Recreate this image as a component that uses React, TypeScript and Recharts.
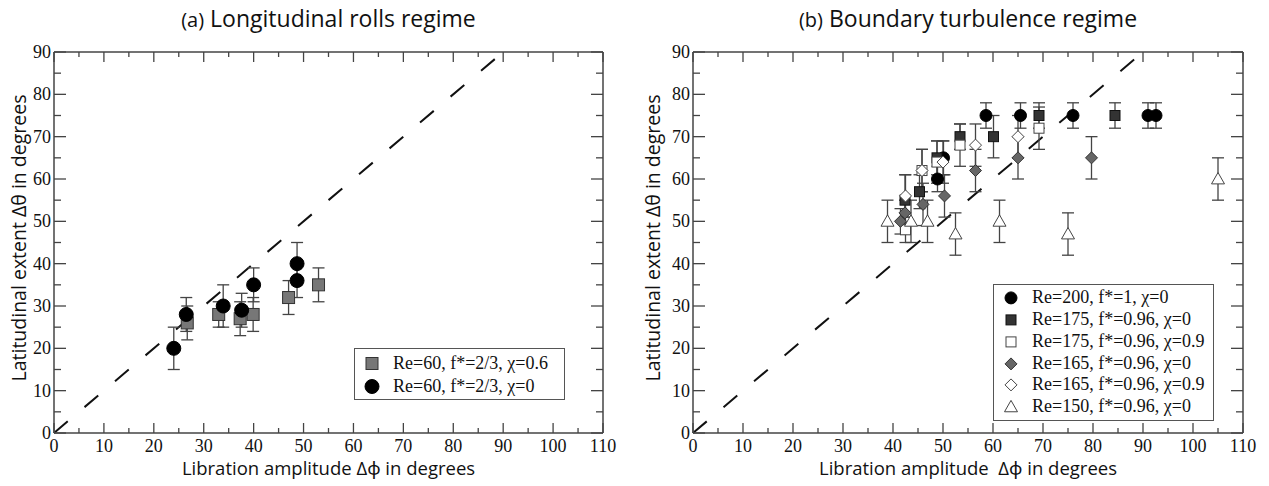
import { ScatterChart, Scatter, XAxis, YAxis, ErrorBar, ReferenceLine } from 'recharts';

// ---- (a) Longitudinal rolls regime ----
const aSquareX = [26.7, 33, 37.3, 39.9, 47, 53];
const aSquareY = [26, 28, 27, 28, 32, 35];
const aSquareErr = [4, 3, 4, 4, 4, 4];

const aCircleX = [24, 26.5, 33.9, 37.6, 40, 48.7, 48.7];
const aCircleY = [20, 28, 30, 29, 35, 40, 36];
const aCircleErr = [5, 4, 5, 4, 4, 5, 4];

// ---- (b) Boundary turbulence regime ----
const bCircleX = [48.9, 50.1, 58.6, 65.5, 76, 91, 92.6];
const bCircleY = [60, 65, 75, 75, 75, 75, 75];
const bCircleErr = [3, 4, 3, 3, 3, 3, 3];

const bSquareX = [42.4, 45.3, 48.8, 53.4, 60.1, 69.2, 84.4];
const bSquareY = [55, 57, 65, 70, 70, 75, 75];
const bSquareErr = [6, 4, 4, 3, 5, 3, 3];

const bOpenSquareX = [42.5, 45.8, 48.8, 53.4, 69.2];
const bOpenSquareY = [48, 62, 64, 68, 72];
const bOpenSquareErr = [3, 5, 5, 5, 5];

const bDiamondX = [41.5, 42.4, 46, 50.3, 56.5, 65, 79.7];
const bDiamondY = [50, 52, 54, 56, 62, 65, 65];
const bDiamondErr = [3, 3, 5, 5, 5, 5, 5];

const bOpenDiamondX = [42.5, 45.8, 50, 56.5, 65];
const bOpenDiamondY = [56, 62, 64, 68, 70];
const bOpenDiamondErr = [5, 5, 5, 5, 5];

const bTriangleX = [38.9, 43.6, 46.9, 52.5, 61.3, 75, 105];
const bTriangleY = [50, 50, 50, 47, 50, 47, 60];
const bTriangleErr = [5, 5, 5, 5, 5, 5, 5];

// axes
const xTicks = [0, 5, 10, 15, 20, 25, 30, 35, 40, 45, 50, 55, 60, 65, 70, 75, 80, 85, 90, 95, 100, 105, 110];
const yTicks = [0, 5, 10, 15, 20, 25, 30, 35, 40, 45, 50, 55, 60, 65, 70, 75, 80, 85, 90];
const diagonal = [{ x: 0, y: 0 }, { x: 90, y: 90 }];

const serif = "'Liberation Serif', 'DejaVu Serif', serif";
const sans = "'Open Sans', 'Noto Sans', sans-serif";
const axisColor = '#444';

function zip(xs: number[], ys: number[], es: number[]) {
  return xs.map((x, i) => ({ x, y: ys[i], e: es[i] }));
}

type Kind = 'circle' | 'square' | 'diamond' | 'triangle';

interface MarkerProps {
  cx: number;
  cy: number;
  kind: Kind;
  size: number;
  fill: string;
  stroke: string;
}

function Marker({ cx, cy, kind, size, fill, stroke }: MarkerProps) {
  const h = size / 2;
  if (kind === 'circle') {
    return <circle cx={cx} cy={cy} r={h} fill={fill} stroke={stroke} strokeWidth={1} />;
  }
  if (kind === 'square') {
    return <rect x={cx - h} y={cy - h} width={size} height={size} fill={fill} stroke={stroke} strokeWidth={1} />;
  }
  if (kind === 'diamond') {
    return (
      <polygon
        points={`${cx},${cy - h} ${cx + h},${cy} ${cx},${cy + h} ${cx - h},${cy}`}
        fill={fill}
        stroke={stroke}
        strokeWidth={1}
      />
    );
  }
  return (
    <polygon
      points={`${cx},${cy - h} ${cx + h},${cy + h * 0.75} ${cx - h},${cy + h * 0.75}`}
      fill={fill}
      stroke={stroke}
      strokeWidth={1}
    />
  );
}

interface SeriesDef {
  name: string;
  data: { x: number; y: number; e: number }[];
  kind: Kind;
  size: number;
  fill: string;
  stroke: string;
}

const seriesA: SeriesDef[] = [
  { name: 'Re=60, f*=2/3, \u03c7=0.6', data: zip(aSquareX, aSquareY, aSquareErr), kind: 'square', size: 12, fill: '#777', stroke: '#333' },
  { name: 'Re=60, f*=2/3, \u03c7=0', data: zip(aCircleX, aCircleY, aCircleErr), kind: 'circle', size: 14, fill: '#000', stroke: '#000' },
];

const seriesB: SeriesDef[] = [
  { name: 'Re=200, f*=1, \u03c7=0', data: zip(bCircleX, bCircleY, bCircleErr), kind: 'circle', size: 12, fill: '#000', stroke: '#000' },
  { name: 'Re=175, f*=0.96, \u03c7=0', data: zip(bSquareX, bSquareY, bSquareErr), kind: 'square', size: 10, fill: '#333', stroke: '#111' },
  { name: 'Re=175, f*=0.96, \u03c7=0.9', data: zip(bOpenSquareX, bOpenSquareY, bOpenSquareErr), kind: 'square', size: 10, fill: '#fff', stroke: '#444' },
  { name: 'Re=165, f*=0.96, \u03c7=0', data: zip(bDiamondX, bDiamondY, bDiamondErr), kind: 'diamond', size: 12, fill: '#666', stroke: '#333' },
  { name: 'Re=165, f*=0.96, \u03c7=0.9', data: zip(bOpenDiamondX, bOpenDiamondY, bOpenDiamondErr), kind: 'diamond', size: 12, fill: '#fff', stroke: '#444' },
  { name: 'Re=150, f*=0.96, \u03c7=0', data: zip(bTriangleX, bTriangleY, bTriangleErr), kind: 'triangle', size: 13, fill: '#fff', stroke: '#444' },
];

function tickLen(v: number) {
  return v % 10 === 0 ? 10 : 5;
}

function BottomTick(props: any) {
  const { x, y, payload } = props;
  const v = payload.value;
  return (
    <g>
      <line x1={x} x2={x} y1={y} y2={y - tickLen(v)} stroke={axisColor} strokeWidth={1.3} />
      {v % 10 === 0 && (
        <text x={x} y={y + 19} textAnchor="middle" fontFamily={serif} style={{ fontFamily: serif, fontSize: 18 }} fill="#111">
          {v}
        </text>
      )}
    </g>
  );
}

function TopTick(props: any) {
  const { x, y, payload } = props;
  return <line x1={x} x2={x} y1={y} y2={y + tickLen(payload.value)} stroke={axisColor} strokeWidth={1.3} />;
}

function LeftTick(props: any) {
  const { x, y, payload } = props;
  const v = payload.value;
  return (
    <g>
      <line x1={x} x2={x + tickLen(v) + 2} y1={y} y2={y} stroke={axisColor} strokeWidth={1.3} />
      {v % 10 === 0 && (
        <text x={x - 3} y={y + 6} textAnchor="end" fontFamily={serif} style={{ fontFamily: serif, fontSize: 18 }} fill="#111">
          {v}
        </text>
      )}
    </g>
  );
}

function RightTick(props: any) {
  const { x, y, payload } = props;
  return <line x1={x} x2={x - tickLen(payload.value) - 2} y1={y} y2={y} stroke={axisColor} strokeWidth={1.3} />;
}

interface PanelProps {
  left: number;
  width: number;
  plotLeft: number;
  plotRight: number;
  title: string;
  tag: string;
  xTitle: string;
  series: SeriesDef[];
  legend: { left: number; top: number; width: number; height: number; row: number; first: number };
}

const plotTop = 52;
const plotBottom = 433;
const H = 486;

function Panel({ left, width, plotLeft, plotRight, title, tag, xTitle, series, legend }: PanelProps) {
  const cx = (plotLeft + plotRight) / 2;
  return (
    <div style={{ position: 'absolute', left, top: 0, width, height: H }}>
      <div
        style={{
          position: 'absolute',
          left: cx - 250,
          width: 500,
          top: 3,
          textAlign: 'center',
          fontFamily: sans,
          fontSize: 23,
          color: '#111',
          lineHeight: '30px',
        }}
      >
        <span style={{ fontSize: 20 }}>{tag}</span> {title}
      </div>
      <div
        style={{
          position: 'absolute',
          left: cx - 250,
          width: 500,
          top: 455,
          textAlign: 'center',
          fontFamily: sans,
          fontSize: 18.5,
          color: '#111',
          lineHeight: '26px',
          whiteSpace: 'pre',
        }}
      >
        {xTitle}
      </div>
      <div
        style={{
          position: 'absolute',
          left: 19 - 200,
          top: 238 - 13,
          width: 400,
          height: 26,
          lineHeight: '26px',
          textAlign: 'center',
          fontFamily: sans,
          fontSize: 19.5,
          color: '#111',
          transform: 'rotate(-90deg)',
        }}
      >
        Latitudinal extent {'\u0394\u03b8'} in degrees
      </div>
      <div style={{ position: 'absolute', left: 0, top: 0 }}>
        <ScatterChart
          width={width}
          height={H}
          margin={{ top: plotTop - 1, bottom: H - plotBottom - 1, left: plotLeft - 1, right: width - plotRight - 1 }}
        >
          <XAxis
            type="number"
            dataKey="x"
            xAxisId="b"
            domain={[0, 110]}
            ticks={xTicks}
            interval={0}
            height={1}
            tickSize={0}
            tickMargin={0}
            tickLine={false}
            axisLine={{ stroke: axisColor, strokeWidth: 1.5 }}
            tick={<BottomTick />}
            allowDataOverflow
          />
          <XAxis
            type="number"
            dataKey="x"
            xAxisId="t"
            orientation="top"
            domain={[0, 110]}
            ticks={xTicks}
            interval={0}
            height={1}
            tickSize={0}
            tickMargin={0}
            tickLine={false}
            axisLine={{ stroke: axisColor, strokeWidth: 1.5 }}
            tick={<TopTick />}
            allowDataOverflow
          />
          <YAxis
            type="number"
            dataKey="y"
            yAxisId="l"
            domain={[0, 90]}
            ticks={yTicks}
            interval={0}
            width={1}
            tickSize={0}
            tickMargin={0}
            tickLine={false}
            axisLine={{ stroke: axisColor, strokeWidth: 1.5 }}
            tick={<LeftTick />}
            allowDataOverflow
          />
          <YAxis
            type="number"
            dataKey="y"
            yAxisId="r"
            orientation="right"
            domain={[0, 90]}
            ticks={yTicks}
            interval={0}
            width={1}
            tickSize={0}
            tickMargin={0}
            tickLine={false}
            axisLine={{ stroke: axisColor, strokeWidth: 1.5 }}
            tick={<RightTick />}
            allowDataOverflow
          />
          <ReferenceLine
            xAxisId="b"
            yAxisId="l"
            segment={diagonal}
            stroke="#111"
            strokeWidth={2}
            strokeDasharray="18 22"
          />
          {series.map((s) => (
            <Scatter
              key={s.name}
              name={s.name}
              data={s.data}
              xAxisId="b"
              yAxisId="l"
              isAnimationActive={false}
              shape={(p: any) => (
                <Marker cx={p.cx} cy={p.cy} kind={s.kind} size={s.size} fill={s.fill} stroke={s.stroke} />
              )}
            >
              <ErrorBar dataKey="e" direction="y" width={6} stroke="#444" strokeWidth={1.3} />
            </Scatter>
          ))}
        </ScatterChart>
      </div>
      <div
        style={{
          position: 'absolute',
          left: legend.left,
          top: legend.top,
          width: legend.width,
          height: legend.height,
          border: '1px solid #555',
          background: '#fff',
          boxSizing: 'border-box',
        }}
      >
        {series.map((s, i) => (
          <div
            key={s.name}
            style={{
              position: 'absolute',
              left: 0,
              top: legend.first + i * legend.row - legend.row / 2,
              height: legend.row,
              lineHeight: `${legend.row}px`,
              whiteSpace: 'nowrap',
              fontFamily: serif,
              fontSize: 18,
              color: '#111',
            }}
          >
            <svg width={30} height={legend.row} style={{ position: 'absolute', left: 3, top: 0 }}>
              <Marker cx={14} cy={legend.row / 2} kind={s.kind} size={s.size} fill={s.fill} stroke={s.stroke} />
            </svg>
            <span style={{ position: 'absolute', left: 38, top: 0 }}>{s.name}</span>
          </div>
        ))}
      </div>
    </div>
  );
}

export default function App() {
  return (
    <div style={{ position: 'absolute', left: 0, top: 0, width: 1269, height: H, background: '#fff', overflow: 'hidden' }}>
      <Panel
        left={0}
        width={634}
        plotLeft={54}
        plotRight={603}
        tag="(a)"
        title="Longitudinal rolls regime"
        xTitle={'Libration amplitude \u0394\u03d5 in degrees'}
        series={seriesA}
        legend={{ left: 354, top: 348, width: 211, height: 52, row: 23, first: 14 }}
      />
      <Panel
        left={634}
        width={635}
        plotLeft={59}
        plotRight={609}
        tag="(b)"
        title="Boundary turbulence regime"
        xTitle={'Libration amplitude  \u0394\u03d5 in degrees'}
        series={seriesB}
        legend={{ left: 359, top: 284, width: 221, height: 137, row: 21.8, first: 13 }}
      />
    </div>
  );
}
